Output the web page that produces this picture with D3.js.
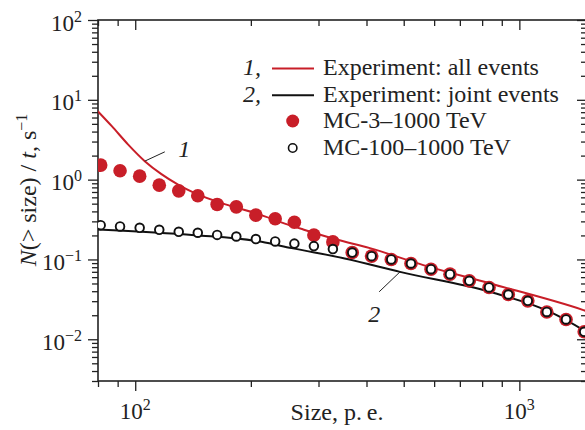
<!DOCTYPE html>
<html><head><meta charset="utf-8">
<script src="https://cdn.jsdelivr.net/npm/d3@7"></script>
<style>
body{margin:0;background:#fff}
svg{display:block;font-family:"Liberation Serif","Times New Roman",serif}
</style>
</head><body>
<svg id="c" width="585" height="430"></svg>
<script>
// ---- data ----
const sizes = [81.3, 91.3, 102.7, 115.5, 129.8, 145.5, 163.4, 183.3, 206.1, 231.4, 259.6, 291.8, 327.0,
               367.2, 412.5, 464.0, 522.2, 588.9, 659.8, 740.8, 833.9, 936, 1052, 1179, 1323, 1475];
const mc3 = [1.52, 1.29, 1.106, 0.853, 0.724, 0.627, 0.489, 0.456, 0.359, 0.323, 0.293, 0.202, 0.166,
             0.122, 0.110, 0.100, 0.089, 0.0755, 0.0654, 0.0539, 0.0446, 0.0364, 0.0303, 0.0220, 0.0177, 0.0124];
const mc100 = [0.269, 0.259, 0.249, 0.235, 0.222, 0.216, 0.203, 0.194, 0.180, 0.168, 0.158, 0.147, 0.135,
               0.122, 0.110, 0.100, 0.089, 0.0755, 0.0654, 0.0539, 0.0446, 0.0364, 0.0303, 0.0220, 0.0177, 0.0124];
const expAllSize = [79.85, 86.9, 95.6, 105.9, 117.0, 129.3, 142.9, 174.5, 213.2, 237.9, 273.6, 334.4, 408.3, 562.3, 838.9, 1468, 1500];
const expAll     = [7.22, 4.68, 2.79, 1.705, 1.172, 0.866, 0.677, 0.479, 0.359, 0.296, 0.2377, 0.178, 0.1386, 0.0849, 0.0500, 0.0232, 0.0224];
const expJointSize = [79.85, 142.9, 213.2, 255.3, 351, 489, 838.9, 1202, 1468, 1500];
const expJoint     = [0.2377, 0.2016, 0.1662, 0.1386, 0.1030, 0.0699, 0.0393, 0.0220, 0.0130, 0.0122];

const xMajorTicks = [100, 1000];
const xMajorExp = ["2", "3"];
const xMinorTicks = [80, 90, 200, 300, 400, 500, 600, 700, 800, 900];
const yMajorTicks = [0.01, 0.1, 1, 10, 100];
const yMajorExp = ["\u22122", "\u22121", "0", "1", "2"];
const yMinorTicks = [0.003,0.004,0.005,0.006,0.007,0.008,0.009,
                     0.02,0.03,0.04,0.05,0.06,0.07,0.08,0.09,
                     0.2,0.3,0.4,0.5,0.6,0.7,0.8,0.9,
                     2,3,4,5,6,7,8,9,20,30,40,50,60,70,80,90];
const legendNums = ["1,", "2,"];
const legendLabels = ["Experiment: all events", "Experiment: joint events", "MC-3\u20131000 TeV", "MC-100\u20131000 TeV"];
// curve annotations: [leader start on curve], [leader end], [label position]
const ann1 = [[105.9, 1.705], [119.4, 2.23], [134.2, 1.93]];
const ann2 = [[489, 0.0699], [431.5, 0.0393], [419, 0.0163]];
const annLabels = ["1", "2"];

const RED = "#c81e28";
const svg = d3.select("#c");
const x = d3.scaleLog().domain([80, 1500]).range([98, 587]);
const y = d3.scaleLog().domain([0.003, 100]).range([381, 20]);
const [X0, X1] = x.range();
const [Y0, Y1] = y.range();

svg.append("defs").append("clipPath").attr("id", "pa")
  .append("rect").attr("x", X0).attr("y", Y1).attr("width", X1 - X0).attr("height", Y0 - Y1);

// ---- axes (ticks) ----
function ax(gen, vals, size, tr) {
  const g = svg.append("g").attr("transform", tr)
    .call(gen.tickValues(vals).tickSize(size).tickFormat(""));
  g.select(".domain").remove();
  g.selectAll("line").attr("stroke", "#222").attr("stroke-width", 1.3);
}
ax(d3.axisBottom(x), xMajorTicks, 10, `translate(0,${Y0})`);
ax(d3.axisBottom(x), xMinorTicks, 6, `translate(0,${Y0})`);
ax(d3.axisTop(x), xMajorTicks, -10, `translate(0,${Y1})`);
ax(d3.axisTop(x), xMinorTicks, -6, `translate(0,${Y1})`);
ax(d3.axisLeft(y), yMajorTicks, 10, `translate(${X0},0)`);
ax(d3.axisLeft(y), yMinorTicks, 6, `translate(${X0},0)`);
ax(d3.axisRight(y), yMajorTicks, -10, `translate(${X1},0)`);
ax(d3.axisRight(y), yMinorTicks, -6, `translate(${X1},0)`);

// frame
svg.append("rect").attr("x", X0).attr("y", Y1).attr("width", X1 - X0).attr("height", Y0 - Y1)
  .attr("fill", "none").attr("stroke", "#222").attr("stroke-width", 1.6);

// tick labels
xMajorTicks.forEach((v, i) => {
  const t = svg.append("text").attr("x", x(v)).attr("y", 419).attr("text-anchor", "middle")
    .attr("font-size", 23).attr("fill", "#222");
  t.append("tspan").text("10");
  t.append("tspan").attr("dy", -9).attr("font-size", 16).text(xMajorExp[i]);
});
yMajorTicks.forEach((v, i) => {
  const t = svg.append("text").attr("x", X0 - 16).attr("y", y(v) + 10.5).attr("text-anchor", "end")
    .attr("font-size", 23).attr("fill", "#222");
  t.append("tspan").text("10");
  t.append("tspan").attr("dy", -9).attr("font-size", 16).text(yMajorExp[i]);
});

// axis titles
svg.append("text").attr("x", 337).attr("y", 420).attr("text-anchor", "middle")
  .attr("font-size", 24).attr("fill", "#222").text("Size, p.\u2009e.");
const yt = svg.append("text").attr("transform", "translate(36,190) rotate(-90)")
  .attr("text-anchor", "middle").attr("font-size", 24).attr("fill", "#222");
yt.append("tspan").attr("font-style", "italic").text("N");
yt.append("tspan").text("(> size) / ");
yt.append("tspan").attr("font-style", "italic").text("t");
yt.append("tspan").text(", s");
yt.append("tspan").attr("dy", -9).attr("font-size", 16).text("\u22121");

// ---- curves ----
const plot = svg.append("g").attr("clip-path", "url(#pa)");
const line = d3.line().x(d => x(d[0])).y(d => y(d[1])).curve(d3.curveMonotoneX);
plot.append("path").datum(d3.zip(expAllSize, expAll)).attr("d", line)
  .attr("fill", "none").attr("stroke", RED).attr("stroke-width", 2);
plot.append("path").datum(d3.zip(expJointSize, expJoint)).attr("d", line)
  .attr("fill", "none").attr("stroke", "#111").attr("stroke-width", 2);

// annotations
[ann1, ann2].forEach((a, i) => {
  svg.append("line").attr("x1", x(a[0][0])).attr("y1", y(a[0][1]))
    .attr("x2", x(a[1][0])).attr("y2", y(a[1][1])).attr("stroke", "#222").attr("stroke-width", 1);
  svg.append("text").attr("x", x(a[2][0])).attr("y", y(a[2][1])).attr("text-anchor", "middle")
    .attr("font-size", 24).attr("font-style", "italic").attr("fill", "#222").text(annLabels[i]);
});

// ---- markers ----
plot.selectAll("circle.mc3").data(d3.zip(sizes, mc3)).join("circle").attr("class", "mc3")
  .attr("cx", d => x(d[0])).attr("cy", d => y(d[1])).attr("r", 6.8).attr("fill", RED);
plot.selectAll("circle.mc100").data(d3.zip(sizes, mc100)).join("circle").attr("class", "mc100")
  .attr("cx", d => x(d[0])).attr("cy", d => y(d[1])).attr("r", 4.3)
  .attr("fill", "#fff").attr("stroke", "#111").attr("stroke-width", 1.9);

// ---- legend ----
const lg = svg.append("g").attr("font-size", 24).attr("fill", "#222");
const rowY = [75, 101.7, 128.3, 155];
legendNums.forEach((n, i) => {
  lg.append("text").attr("x", 261).attr("y", rowY[i]).attr("text-anchor", "end")
    .attr("font-style", "italic").text(n);
  lg.append("line").attr("x1", 272).attr("x2", 314).attr("y1", rowY[i] - 6.5).attr("y2", rowY[i] - 6.5)
    .attr("stroke", i === 0 ? RED : "#111").attr("stroke-width", 2);
});
lg.append("circle").attr("cx", 292.7).attr("cy", rowY[2] - 7.3).attr("r", 6.5).attr("fill", RED);
lg.append("circle").attr("cx", 292.7).attr("cy", rowY[3] - 7).attr("r", 4.2)
  .attr("fill", "#fff").attr("stroke", "#111").attr("stroke-width", 1.6);
legendLabels.forEach((t, i) => {
  lg.append("text").attr("x", 323).attr("y", rowY[i]).text(t);
});
</script>
</body></html>
